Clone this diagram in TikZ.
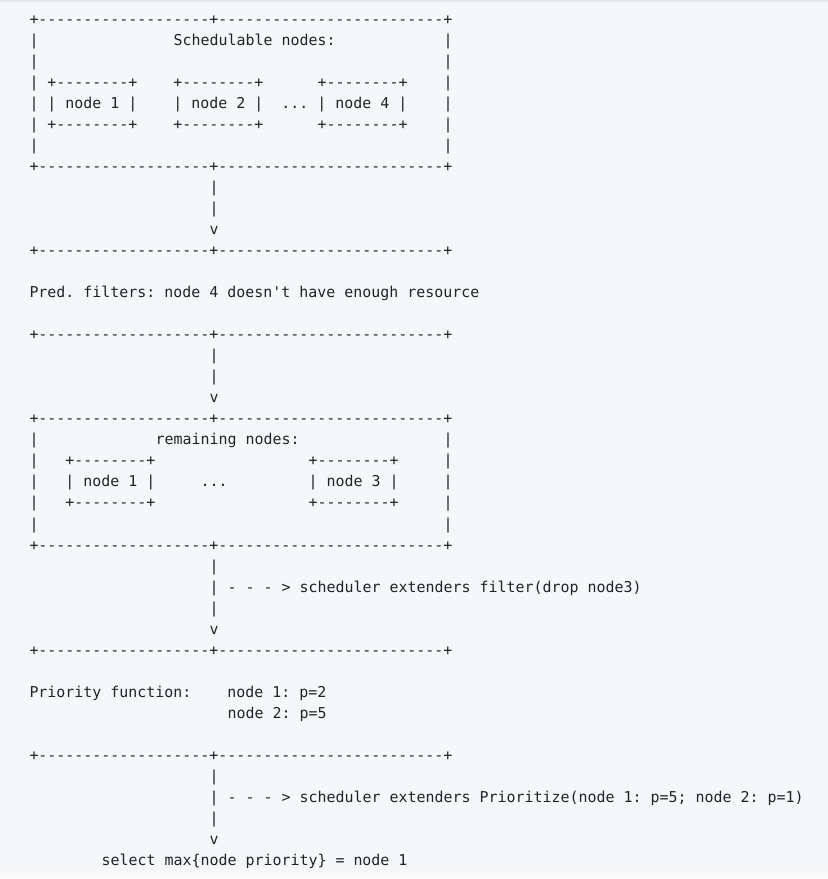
\documentclass[tikz,border=0pt]{standalone}
\usepackage{fontspec}
\newfontfamily\codefont{DejaVu Sans Mono}
\frenchspacing

\definecolor{pagebg}{HTML}{F6F7F9}
\definecolor{pagetop}{HTML}{E6E8EB}
\definecolor{pagebot}{HTML}{FBFBFC}
\definecolor{ink}{HTML}{1F2328}

\newcommand\codesize{\fontsize{14.95pt}{21pt}\selectfont}

% one character cell of the code font
\newlength\cw
\setlength\cw{0.60205\dimexpr 14.95pt\relax}
\newcommand\gap[1]{\hspace*{#1\cw}}
\ExplSyntaxOn
\NewDocumentCommand\dashrun{m}{\prg_replicate:nn{#1}{-}}
\ExplSyntaxOff
\newcommand\sepline{+\dashrun{19}+\dashrun{25}+}
\newcommand\nbox{+\dashrun{8}+}

% a text row of the code block, by row number
\newcommand\tline[3]{\node[txt] (#1) at (29.5pt,{-24.3pt-21.03pt*#2}) {#3};}

\begin{document}
\begin{tikzpicture}[
  txt/.style={anchor=base west, inner sep=0pt, outer sep=0pt, text=ink,
    font=\codefont\codesize}
]
\useasboundingbox (0,0) rectangle (828pt,-879pt);
\fill[pagebg] (0,0) rectangle (828pt,-879pt);
\fill[pagetop] (0,0) rectangle (828pt,-1.5pt);
\fill[pagebot] (0,-875pt) rectangle (828pt,-879pt);

% schedulable nodes
\tline{r0}{0}{\sepline}
\tline{r1}{1}{|\gap{15}Schedulable nodes:\gap{12}|}
\tline{r2}{2}{|\gap{45}|}
\tline{r3}{3}{|\gap{1}\nbox\gap{4}\nbox\gap{6}\nbox\gap{4}|}
\tline{r4}{4}{|\gap{1}| node 1 |\gap{4}| node 2 |\gap{2}...\gap{1}| node 4 |\gap{4}|}
\tline{r5}{5}{|\gap{1}\nbox\gap{4}\nbox\gap{6}\nbox\gap{4}|}
\tline{r6}{6}{|\gap{45}|}
\tline{r7}{7}{\sepline}
\tline{r8}{8}{\gap{20}|}
\tline{r9}{9}{\gap{20}|}
\tline{r10}{10}{\gap{20}v}
\tline{r11}{11}{\sepline}

% predicate filters
\tline{r13}{13}{Pred. filters: node 4 doesn't have enough resource}

\tline{r15}{15}{\sepline}
\tline{r16}{16}{\gap{20}|}
\tline{r17}{17}{\gap{20}|}
\tline{r18}{18}{\gap{20}v}

% remaining nodes
\tline{r19}{19}{\sepline}
\tline{r20}{20}{|\gap{13}remaining nodes:\gap{16}|}
\tline{r21}{21}{|\gap{3}\nbox\gap{17}\nbox\gap{5}|}
\tline{r22}{22}{|\gap{3}| node 1 |\gap{5}...\gap{9}| node 3 |\gap{5}|}
\tline{r23}{23}{|\gap{3}\nbox\gap{17}\nbox\gap{5}|}
\tline{r24}{24}{|\gap{45}|}
\tline{r25}{25}{\sepline}
\tline{r26}{26}{\gap{20}|}
\tline{r27}{27}{\gap{20}| - - - > scheduler extenders filter(drop node3)}
\tline{r28}{28}{\gap{20}|}
\tline{r29}{29}{\gap{20}v}
\tline{r30}{30}{\sepline}

% priority functions
\tline{r32}{32}{Priority function:\gap{4}node 1: p=2}
\tline{r33}{33}{\gap{22}node 2: p=5}

\tline{r35}{35}{\sepline}
\tline{r36}{36}{\gap{20}|}
\tline{r37}{37}{\gap{20}| - - - > scheduler extenders Prioritize(node 1: p=5; node 2: p=1)}
\tline{r38}{38}{\gap{20}|}
\tline{r39}{39}{\gap{20}v}
\tline{r40}{40}{\gap{8}select max\{node priority\} = node 1}
\end{tikzpicture}
\end{document}
